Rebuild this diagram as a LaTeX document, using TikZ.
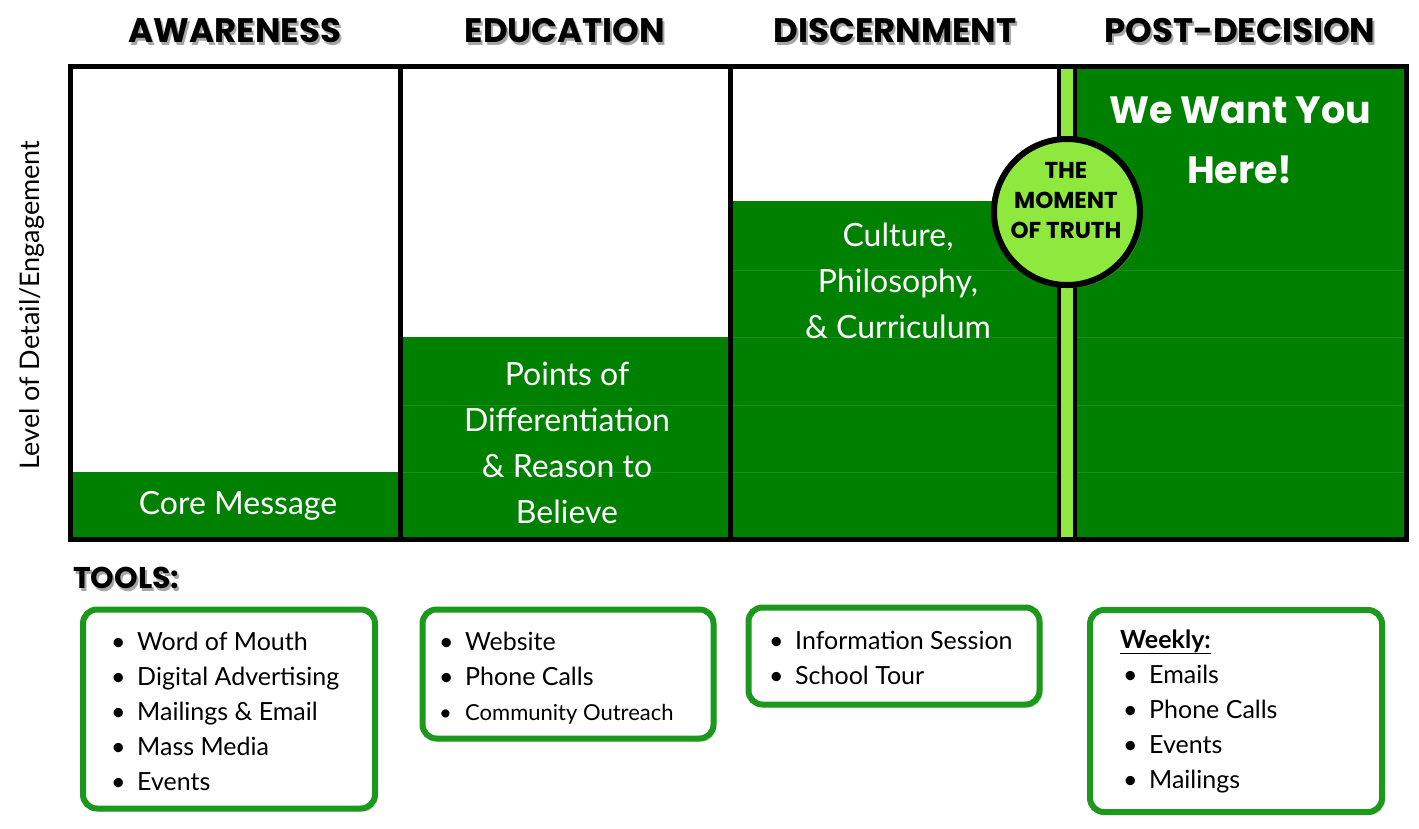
\documentclass[tikz,border=0pt]{standalone}
\usepackage{fontspec}
\setmainfont{Lato}
\newfontfamily\headfont{Poppins}
\usetikzlibrary{shadows}
\usetikzlibrary{positioning}

\definecolor{panelgreen}{RGB}{0,128,0}
\definecolor{limegreen}{RGB}{142,232,62}
\definecolor{boxgreen}{RGB}{28,152,28}

\tikzset{
    heading/.style={font=\headfont\bfseries\fontsize{34}{40}\selectfont, inner sep=0pt},
    paneltext/.style={font=\fontsize{32}{46}\selectfont, text=white, align=center},
    toolbox/.style={draw=boxgreen, line width=6pt, rounded corners=14pt, fill=white,
        drop shadow={shadow xshift=3pt, shadow yshift=-3pt, opacity=0.3}},
    toollist/.style={font=\fontsize{25}{35}\selectfont, align=left, inner sep=0pt, anchor=west},
}
\newcommand{\itm}{\makebox[26pt][l]{\textbullet}}

\begin{document}
\begin{tikzpicture}[x=1pt, y=-1pt]
    \useasboundingbox (0,0) rectangle (1419,828);

    % column headings
    \foreach \x/\name/\txt in {235/aware/AWARENESS, 565/educ/EDUCATION, 895/disc/DISCERNMENT, 1240/post/POST-DECISION} {
        \node[heading, text=black!35] at (\x+2,34) {\txt};
        \node[heading] (\name) at (\x,31) {\txt};
    }

    % green levels
    \fill[panelgreen] (70,472) rectangle (400,539);
    \fill[panelgreen] (400,337) rectangle (730,539);
    \fill[panelgreen] (730,201) rectangle (1059,539);
    \fill[panelgreen] (1075,66) rectangle (1406,539);
    \foreach \y in {270,337,405,472} {
        \draw[panelgreen!90!white, line width=0.6pt] (730,\y) -- (1059,\y);
        \draw[panelgreen!90!white, line width=0.6pt] (1075,\y) -- (1406,\y);
    }
    \foreach \y in {405,472}
        \draw[panelgreen!90!white, line width=0.6pt] (400,\y) -- (730,\y);

    % frame and dividers
    \fill[limegreen] (1059,66) rectangle (1075,539);
    \draw[line width=5pt] (70,66) rectangle (1406,539);
    \draw[line width=5pt] (400,66) -- (400,539);
    \draw[line width=5pt] (730,66) -- (730,539);
    \draw[line width=4pt] (1059,66) -- (1059,539);
    \draw[line width=4pt] (1075,66) -- (1075,539);

    % panel texts
    \node[paneltext] (core) at (238,506) {Core Message};
    \node[paneltext] (points) at (567,443) {Points of\\Differentiation\\\& Reason to\\Believe};
    \node[paneltext] (culture) at (898,281) {Culture,\\Philosophy,\\\& Curriculum};
    \node[font=\headfont\bfseries\fontsize{38}{60}\selectfont, text=white, align=center] (want) at (1240,140) {We Want You\\Here!};

    % moment of truth
    \node[circle, draw, line width=6pt, fill=limegreen, minimum size=146pt,
        drop shadow={shadow xshift=3pt, shadow yshift=-3pt, opacity=0.35}] (truth) at (1067,212) {};
    \node[font=\headfont\bfseries\fontsize{23}{30}\selectfont, align=center] (truth text) at (1066,201) {THE\\MOMENT\\OF TRUTH};

    % axis label
    \node[rotate=90, font=\fontsize{27}{30}\selectfont] (level) at (32,305) {Level of Detail/Engagement};

    % tools
    \node[heading, font=\headfont\bfseries\fontsize{30}{36}\selectfont, text=black!35, anchor=west] at (75,581) {TOOLS:};
    \node[heading, font=\headfont\bfseries\fontsize{30}{36}\selectfont, anchor=west] (tools) at (73,578) {TOOLS:};

    \node[toolbox, minimum width=292pt, minimum height=199pt] (aware tools) at (229,709) {};
    \node[toollist] (aware list) at (111,711) {%
        \itm Word of Mouth\\\itm Digital Advertising\\\itm Mailings \& Email\\\itm Mass Media\\\itm Events};

    \node[toolbox, minimum width=291pt, minimum height=129pt] (educ tools) at (568,674) {};
    \node[toollist] (educ list) at (439,678) {%
        \itm Website\\\itm Phone Calls\\{\fontsize{22}{35}\selectfont\itm Community Outreach}};

    \node[toolbox, minimum width=291pt, minimum height=97pt] (disc tools) at (894,656) {};
    \node[toollist] (disc list) at (769,658) {%
        \itm Information Session\\\itm School Tour};

    \node[toolbox, minimum width=292pt, minimum height=202pt] (post tools) at (1236,711) {};
    \node[toollist] (post list) at (1120,711) {%
        \textbf{\underline{Weekly:}}\\
        \hspace*{3pt}\itm Emails\\\hspace*{3pt}\itm Phone Calls\\\hspace*{3pt}\itm Events\\\hspace*{3pt}\itm Mailings};
\end{tikzpicture}
\end{document}
